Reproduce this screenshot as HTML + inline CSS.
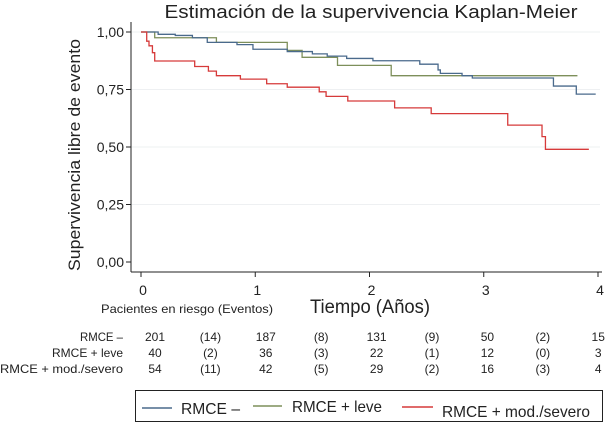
<!DOCTYPE html>
<html><head><meta charset="utf-8"><style>
body{margin:0;background:#fff;width:610px;height:423px;overflow:hidden}
svg{display:block;font-family:"Liberation Sans",Arial,sans-serif}
</style></head><body>
<svg id="c" width="610" height="423">
<text x="371" y="18" font-size="18" text-anchor="middle" textLength="413" lengthAdjust="spacingAndGlyphs" fill="#222">Estimación de la supervivencia Kaplan-Meier</text>
<text transform="translate(80,155) rotate(-90)" font-size="17" text-anchor="middle" textLength="232" lengthAdjust="spacingAndGlyphs" fill="#222">Supervivencia libre de evento</text>
<text x="370" y="313" font-size="19" text-anchor="middle" textLength="120" lengthAdjust="spacingAndGlyphs" fill="#222">Tiempo (Años)</text>
<text x="187" y="313" font-size="12" text-anchor="middle" textLength="172" lengthAdjust="spacingAndGlyphs" fill="#222">Pacientes en riesgo (Eventos)</text>
<g id="axes"></g><g id="series"></g><g id="risk"></g>
<g>
<rect x="135.5" y="390.5" width="467" height="31" fill="#fff" stroke="#222"/>
<line x1="142" y1="408" x2="172" y2="408" stroke="#4a6a8c" stroke-width="1.5"/>
<text x="181" y="414" font-size="16" textLength="59" lengthAdjust="spacingAndGlyphs" fill="#222">RMCE –</text>
<line x1="253" y1="406" x2="282" y2="406" stroke="#7d8f5a" stroke-width="1.5"/>
<text x="292" y="412" font-size="16" textLength="90" lengthAdjust="spacingAndGlyphs" fill="#222">RMCE + leve</text>
<line x1="402" y1="407" x2="433" y2="407" stroke="#d63a3a" stroke-width="1.5"/>
<text x="442" y="417" font-size="16" textLength="148" lengthAdjust="spacingAndGlyphs" fill="#222">RMCE + mod./severo</text>
</g>
</svg>
<script>
const yTicks=[0,0.25,0.5,0.75,1];
const yTickLabels=["0,00","0,25","0,50","0,75","1,00"];
const xTicks=[0,1,2,3,4];
const blueT=[0,0.15,0.3,0.45,0.58,0.84,0.98,1.28,1.5,1.63,1.8,2.03,2.44,2.6,2.62,2.81,2.9,3.61,3.81,3.98];
const blueS=[1,0.99,0.985,0.975,0.955,0.945,0.925,0.915,0.905,0.895,0.885,0.875,0.86,0.835,0.82,0.81,0.8,0.765,0.73,0.73];
const greenT=[0,0.12,0.66,1.28,1.41,1.72,2.19,3.82];
const greenS=[1,0.975,0.955,0.92,0.89,0.855,0.81,0.81];
const redT=[0,0.05,0.07,0.1,0.12,0.47,0.59,0.66,0.87,1.1,1.28,1.56,1.62,1.81,2.22,2.54,3.21,3.51,3.54,3.92];
const redS=[1,0.96,0.94,0.91,0.874,0.85,0.83,0.81,0.795,0.775,0.76,0.74,0.72,0.7,0.67,0.645,0.595,0.545,0.49,0.49];
const riskRows=["RMCE –","RMCE + leve","RMCE + mod./severo"];
const riskVals=[["201","(14)","187","(8)","131","(9)","50","(2)","15"],["40","(2)","36","(3)","22","(1)","12","(0)","3"],["54","(11)","42","(5)","29","(2)","16","(3)","4"]];
const NS="http://www.w3.org/2000/svg";
const X=t=>141+t*114.25, Y=s=>262-s*230;
function mk(tag,attrs,parent,txt){const e=document.createElementNS(NS,tag);for(const k in attrs)e.setAttribute(k,attrs[k]);if(txt!==undefined)e.textContent=txt;parent.appendChild(e);return e;}
const ax=document.getElementById('axes');
yTicks.forEach((v,i)=>{
 if(v>0){const g=mk('line',{x1:131,x2:600,y1:Y(v),y2:Y(v),stroke:'#eef0f2','stroke-width':1},ax);
 
 }
 const t=mk('line',{x1:126,x2:131,y1:Y(v),y2:Y(v),stroke:'#222'},ax);
 
 
 const l=mk('text',{x:124,y:Y(v)+5,'font-size':14,'text-anchor':'end',fill:'#222'},ax,yTickLabels[i]);
 
 
});
const ya=mk('line',{x1:131,x2:131,y1:22,y2:272,stroke:'#222'},ax);


const xa=mk('line',{x1:131,x2:602,y1:272,y2:272,stroke:'#222'},ax);


xTicks.forEach(v=>{
 const t=mk('line',{x1:X(v),x2:X(v),y1:272,y2:277,stroke:'#222'},ax);
 
 
 const l=mk('text',{x:X(v)+2,y:295,'font-size':14,'text-anchor':'middle',fill:'#222'},ax,String(v));
 
 
});
const sg=document.getElementById('series');
function step(T,S,color,name){let d='M'+X(T[0])+','+Y(S[0]);
 for(let i=1;i<T.length;i++){d+=' H'+X(T[i])+' V'+Y(S[i]);}
 const p=mk('path',{d:d,fill:'none',stroke:color,'stroke-width':1.3},sg);
 
 }
step(greenT,greenS,'#7d8f5a','series-rmce-leve');
step(blueT,blueS,'#4a6a8c','series-rmce-neg');
step(redT,redS,'#d63a3a','series-rmce-severo');
const rg=document.getElementById('risk');
const labelW=[43,71,123];
riskRows.forEach((r,i)=>{const y=341+i*16;
 const l=mk('text',{x:123,y:y,'font-size':12,'text-anchor':'end',textLength:labelW[i],lengthAdjust:'spacingAndGlyphs',fill:'#222'},rg,r);
 
 
 riskVals[i].forEach((v,k)=>{const c=mk('text',{x:155+k*55.4,y:y,'font-size':12,'text-anchor':'middle',fill:'#222'},rg,v);
 
 });
});
</script>
</body></html>
